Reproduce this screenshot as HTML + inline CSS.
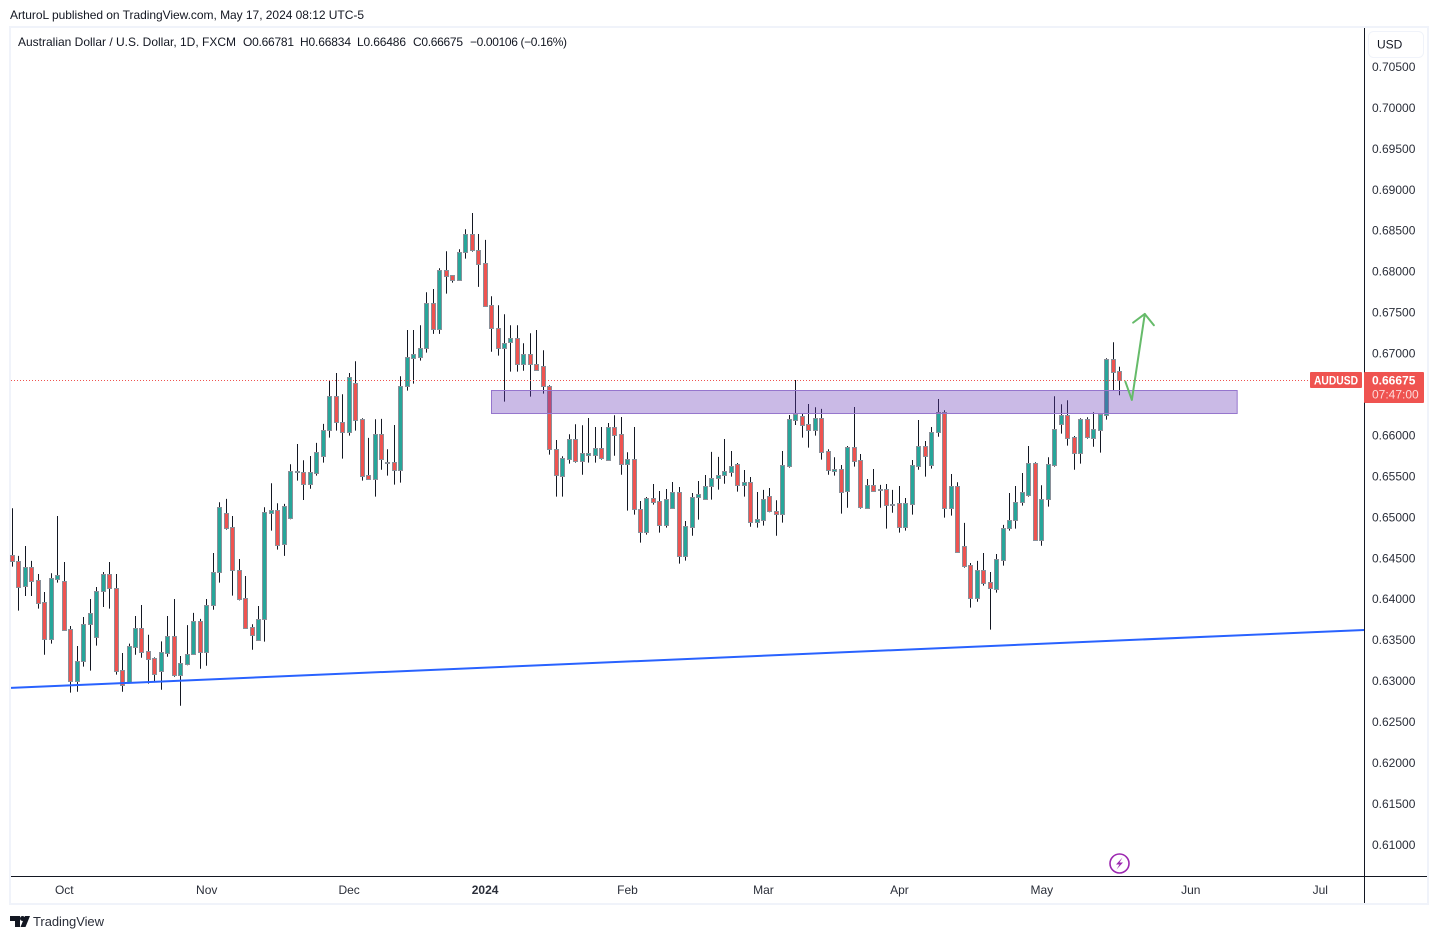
<!DOCTYPE html>
<html lang="en">
<head>
<meta charset="utf-8">
<title>AUDUSD daily chart</title>
<style>
html,body{margin:0;padding:0;background:#fff;width:1438px;height:939px;overflow:hidden}
svg{display:block;font-family:"Liberation Sans",sans-serif}
</style>
</head>
<body>
<svg id="c" width="1438" height="939" viewBox="0 0 1438 939">
  <rect x="0" y="0" width="1438" height="939" fill="#fff"/>
  <text x="10" y="19" font-size="12" fill="#131722" textLength="354" lengthAdjust="spacing">ArturoL published on TradingView.com, May 17, 2024 08:12 UTC-5</text>
  <rect x="10" y="27" width="1418" height="877" fill="none" stroke="#f0f3fa" stroke-width="2"/>
  <g id="marks"></g>
  <g id="draw"></g>
  <line x1="1364.5" y1="28" x2="1364.5" y2="903" stroke="#131722" stroke-width="1"/>
  <line x1="11" y1="876.5" x2="1427" y2="876.5" stroke="#131722" stroke-width="1"/>
  <g font-size="12" fill="#131722">
    <text x="18" y="46" textLength="218" lengthAdjust="spacing">Australian Dollar / U.S. Dollar, 1D, FXCM</text>
    <text x="243" y="46" textLength="51" lengthAdjust="spacing">O0.66781</text>
    <text x="300" y="46" textLength="51" lengthAdjust="spacing">H0.66834</text>
    <text x="357" y="46" textLength="49" lengthAdjust="spacing">L0.66486</text>
    <text x="413" y="46" textLength="50" lengthAdjust="spacing">C0.66675</text>
    <text x="470" y="46" textLength="97" lengthAdjust="spacing">−0.00106 (−0.16%)</text>
  </g>
  <rect x="1368.5" y="31.5" width="55" height="26" rx="5" fill="#fff" stroke="#f0f3fa" stroke-width="1"/>
  <text x="1377" y="48.5" font-size="12" fill="#131722">USD</text>
  <g id="yticks"></g>
  <g id="xticks"></g>
  <rect x="1310" y="372" width="52" height="16" rx="1" fill="#ef5350"/>
  <text x="1336" y="384.5" font-size="12" fill="#fff" text-anchor="middle" font-weight="700" textLength="44" lengthAdjust="spacingAndGlyphs">AUDUSD</text>
  <rect x="1364" y="372" width="60" height="31" rx="1" fill="#ef5350"/>
  <text x="1372" y="384.5" font-size="12" font-weight="700" fill="#fff">0.66675</text>
  <text x="1372" y="398.5" font-size="12" fill="#fcd9d8">07:47:00</text>
  <g>
    <circle cx="1119.5" cy="863.5" r="9.5" fill="#fff" stroke="#9c27b0" stroke-width="1.6"/>
    <path d="M1122.5 857.5 L1116 864.5 L1119.5 864.5 L1116.5 869.5 L1123 862.5 L1119.5 862.5 Z" fill="#9c27b0"/>
  </g>
  <g>
    <path d="M10 916 H20 V927 H15 V921 H10 Z M30 916 L25.5 927 H20.5 L25 916 Z" fill="#131722"/>
    <circle cx="22.5" cy="918.5" r="2.5" fill="#131722"/>
    <text x="33" y="926" font-size="13" fill="#2a2e39" textLength="71" lengthAdjust="spacing">TradingView</text>
  </g>
</svg>
<script>
const opens=[.64532,.64459,.64157,.64386,.64227,.63958,.63514,.64246,.64215,.63628,
.63000,.63238,.63689,.63538,.64092,.64300,.64129,.63128,.62981,.63416,
.63640,.63359,.63273,.63123,.63342,.63543,.63074,.63208,.63330,.63726,
.63355,.63921,.64325,.65045,.64874,.64349,.64007,.63653,.63494,.63751,
.65052,.65082,.64670,.64984,.65549,.65546,.65406,.65541,.65741,.66059,
.66474,.66156,.66034,.66633,.66193,.65509,.65468,.66010,.65659,.65668,
.65577,.66596,.66945,.66950,.67060,.67610,.67292,.68013,.67952,.67898,
.68232,.68452,.68257,.68098,.67585,.67304,.67060,.67141,.67182,.66865,
.66987,.66865,.66840,.66596,.65827,.65504,.65712,.65949,.65687,.65761,
.65761,.65839,.65700,.66095,.66010,.65651,.65704,.65094,.64820,.65228,
.65192,.64906,.65113,.65302,.64520,.64881,.65240,.65223,.65375,.65472,
.65509,.65553,.65643,.65394,.65424,.64942,.64967,.65253,.65069,.65033,
.65626,.66188,.66230,.66132,.66059,.66205,.65802,.65565,.65582,.65314,
.65851,.65692,.65113,.65387,.65333,.65338,.65150,.65167,.64881,.65162,
.65626,.65863,.65639,.66034,.66278,.65113,.65375,.64642,.64410,.64007,
.64349,.64202,.64117,.64478,.64862,.64960,.65179,.65272,.65656,.64723,
.65216,.65639,.66139,.66242,.65973,.65785,.66193,.65968,.66066,.66249,
.66926,.66781];
const closes=[.64459,.64149,.64386,.64222,.63953,.63514,.64251,.64288,.63624,.63000,
.63238,.63689,.63824,.64092,.64300,.64129,.63123,.62945,.63421,.63640,
.63354,.63269,.63085,.63347,.63543,.63074,.63213,.63323,.63726,.63355,
.63921,.64325,.65118,.64869,.64349,.64002,.63648,.63562,.63751,.65057,
.65082,.64662,.65131,.65558,.65558,.65406,.65546,.65790,.66059,.66474,
.66156,.66034,.66706,.66188,.65504,.65468,.66010,.65712,.65668,.65577,
.66596,.66950,.66987,.67060,.67610,.67292,.68013,.67947,.67898,.68232,
.68452,.68257,.68093,.67580,.67304,.67060,.67121,.67182,.66865,.66987,
.66865,.66799,.66596,.65827,.65509,.65717,.65949,.65687,.65778,.65778,
.65839,.65724,.66095,.66005,.65651,.65704,.65102,.64820,.65228,.65186,
.64906,.65216,.65302,.64520,.64886,.65240,.65277,.65375,.65472,.65509,
.65558,.65619,.65394,.65424,.64942,.64972,.65216,.65069,.65033,.65631,
.66193,.66254,.66127,.66059,.66205,.65797,.65577,.65586,.65309,.65851,
.65687,.65126,.65387,.65321,.65342,.65150,.65159,.64881,.65167,.65631,
.65863,.65748,.66034,.66278,.65113,.65375,.64576,.64405,.64007,.64349,
.64198,.64137,.64483,.64862,.64960,.65179,.65302,.65656,.64723,.65216,
.65643,.66071,.66242,.65968,.65785,.66193,.65980,.66071,.66254,.66926,
.66774,.66675];
const highs=[.65106,.64524,.64646,.64463,.64304,.64084,.64312,.65012,.64450,.63669,
.63424,.63778,.63998,.64145,.64328,.64450,.64304,.63338,.63453,.63791,
.63925,.63562,.63285,.63481,.63791,.63998,.63302,.63679,.63828,.63755,
.63998,.64560,.65179,.65220,.65012,.64487,.64279,.63689,.63913,.65118,
.65411,.65167,.65159,.65643,.65891,.65692,.65745,.65904,.66136,.66661,
.66758,.66498,.66758,.66901,.66205,.65965,.66193,.66197,.65827,.66123,
.66718,.67283,.67283,.67341,.67744,.67784,.68037,.68245,.67952,.68269,
.68513,.68712,.68456,.68383,.67695,.67585,.67475,.67341,.67341,.67121,
.67243,.67283,.67036,.66608,.65940,.65741,.66010,.66132,.66120,.66209,
.66099,.66099,.66148,.66242,.66221,.65790,.66099,.65195,.65244,.65403,
.65317,.65342,.65427,.65366,.64951,.65293,.65439,.65513,.65794,.65733,
.65952,.65806,.65659,.65574,.65488,.65305,.65330,.65354,.65204,.65806,
.66245,.66673,.66261,.66380,.66340,.66319,.65827,.65729,.65635,.65867,
.66343,.65769,.65464,.65586,.65391,.65403,.65330,.65378,.65232,.65696,
.66184,.65928,.66099,.66441,.66303,.65525,.65424,.64927,.64438,.64463,
.64560,.64328,.64548,.64903,.65293,.65378,.65537,.65867,.65668,.65387,
.65729,.66474,.66376,.66425,.65989,.66205,.66217,.66278,.66270,.66938,
.67133,.66834];
const lows=[.64393,.63856,.64035,.64035,.63880,.63318,.63453,.64198,.63624,.62854,
.62866,.63172,.63123,.63428,.63901,.63880,.63074,.62866,.62981,.63318,
.63280,.62964,.62989,.62890,.63293,.63049,.62694,.63189,.63318,.63147,
.63183,.63867,.64198,.64845,.64039,.63982,.63636,.63379,.63489,.63477,
.64833,.64601,.64524,.64972,.65443,.65207,.65345,.65504,.65663,.65968,
.66054,.65712,.65993,.66054,.65443,.65458,.65248,.65577,.65504,.65394,
.65419,.66542,.66628,.66909,.67006,.67235,.67235,.67727,.67861,.67894,
.68154,.68240,.67809,.67568,.67018,.66970,.66408,.66774,.66774,.66786,
.66469,.66786,.66506,.65761,.65248,.65248,.65651,.65663,.65516,.65663,
.65663,.65700,.65696,.65748,.65516,.65077,.65028,.64686,.64784,.65150,
.64808,.64869,.65107,.64430,.64466,.64771,.64967,.65219,.65211,.65333,
.65406,.65492,.65309,.65248,.64881,.64869,.64894,.65057,.64771,.64930,
.65602,.66123,.65968,.65846,.65993,.65700,.65516,.65504,.65040,.65113,
.65614,.65102,.65102,.65309,.65113,.64857,.65052,.64808,.64833,.65028,
.65577,.65492,.65590,.65980,.64991,.65016,.64564,.64381,.63892,.63965,
.64161,.63624,.64076,.64405,.64833,.64857,.65138,.65248,.64719,.64649,
.65126,.65614,.66017,.65871,.65577,.65651,.65956,.65858,.65785,.66188,
.66551,.66486];
const priceTicks=[.705,.70,.695,.69,.685,.68,.675,.67,.665,.66,.655,.65,.645,.64,.635,.63,.625,.62,.615,.61];
const timeLabels=["Oct","Nov","Dec","2024","Feb","Mar","Apr","May","Jun","Jul"];
const timeBars=[8,30,52,73,95,116,137,159,182,202];
const lastPrice=0.66675;
const trendBars=[-0.23,208.8];
const trendPrices=[.62912,.63620];
const zoneBars=[73.96,189.14];
const zonePrices=[.66545,.66264];
const arrowBars=[171.9,172.9,174.9];
const arrowPrices=[.66652,.66429,.67479];
const headBars=[173.1,174.9,176.3];
const headPrices=[.67373,.67479,.67341];

const NS='http://www.w3.org/2000/svg';
function xAxis(i){return 12.5+i*6.474;}
function yAxis(p){return 107.5+(0.70-p)*8189;}
function mk(t,parent,attrs){
  const e=document.createElementNS(NS,t);
  for(const k in attrs)e.setAttribute(k,attrs[k]);
  parent.appendChild(e);
  return e;
}
const marks=document.getElementById('marks');
const n=opens.length;
for(let i=0;i<n;i++){
  const cx=Math.floor(xAxis(i))+0.5;
  const g=mk('g',marks,{});
  
  
  const wick=mk('line',g,{x1:cx,x2:cx,y1:yAxis(highs[i]),y2:yAxis(lows[i]),stroke:'#131722','stroke-width':1});
  
  
  const up=closes[i]>=opens[i];
  const top=Math.round(yAxis(Math.max(opens[i],closes[i])))+0.5;
  const bot=Math.round(yAxis(Math.min(opens[i],closes[i])))+0.5;
  const body=mk('rect',g,{x:cx-2,y:top,width:4,height:Math.max(bot-top,1),fill:up?'#26a69a':'#ef5350',stroke:'#8a9099','stroke-width':1});
  
  
}
const draw=document.getElementById('draw');
const priceLine=mk('line',draw,{x1:11,x2:1364,y1:Math.round(yAxis(lastPrice))+0.5,y2:Math.round(yAxis(lastPrice))+0.5,stroke:'#ef5350','stroke-width':1,'stroke-dasharray':'1 2'});


const zone=mk('rect',draw,{x:Math.round(xAxis(zoneBars[0]))+0.5,y:Math.round(yAxis(zonePrices[0]))+0.5,width:xAxis(zoneBars[1])-xAxis(zoneBars[0]),height:yAxis(zonePrices[1])-yAxis(zonePrices[0]),fill:'rgba(103,58,183,0.35)',stroke:'#9575cd','stroke-width':1});


const trend=mk('line',draw,{x1:xAxis(trendBars[0]),y1:yAxis(trendPrices[0]),x2:xAxis(trendBars[1]),y2:yAxis(trendPrices[1]),stroke:'#2962ff','stroke-width':2});


const arrow=mk('polyline',draw,{points:arrowBars.map((b,i)=>xAxis(b)+','+yAxis(arrowPrices[i])).join(' '),fill:'none',stroke:'#66bb6a','stroke-width':2,'stroke-linejoin':'round','stroke-linecap':'round'});


const head=mk('polyline',draw,{points:headBars.map((b,i)=>xAxis(b)+','+yAxis(headPrices[i])).join(' '),fill:'none',stroke:'#66bb6a','stroke-width':2,'stroke-linejoin':'round','stroke-linecap':'round'});



const yt=document.getElementById('yticks');
priceTicks.forEach(p=>{
  const t=mk('text',yt,{x:1372,y:yAxis(p)+4.4,'font-size':12,fill:'#2a2e39'});
  
  
  t.textContent=p.toFixed(5);
});
const xt=document.getElementById('xticks');
timeLabels.forEach((l,i)=>{
  const t=mk('text',xt,{x:xAxis(timeBars[i]),y:894,'font-size':12,fill:'#2a2e39','text-anchor':'middle','font-weight':l==='2024'?700:400});
  
  
  t.textContent=l;
});
</script>
</body>
</html>
